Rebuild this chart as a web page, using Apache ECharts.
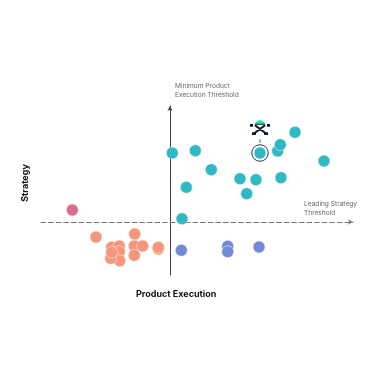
<!DOCTYPE html>
<html>
<head>
<meta charset="utf-8">
<style>
  html, body { margin: 0; padding: 0; background: #fff; }
  #chart-container { width: 378px; height: 378px; }
</style>
<script src="https://cdn.jsdelivr.net/npm/echarts@6/dist/echarts.min.js"></script>
</head>
<body>
<div id="chart-container"></div>
<script>
// values are offsets from the two thresholds
const tealX = [2.3, 25.3, 41.3, 16.3, 12, 70, 86, 76.7, 111, 90, 107.7, 110.3, 125, 154];
const tealY = [69, 71.3, 52.3, 34.7, 3.3, 43.3, 42.3, 28.3, 44.3, 69, 71, 77.3, 89.7, 61];
const orangeX = [-74, -35.3, -58.3, -50.7, -50.7, -35.7, -27.3, -35.7, -50.3, -59.3, -58.3, -11.7, -11.7];
const orangeY = [-15, -12, -25.3, -24, -29.7, -24, -24, -33.3, -38.7, -36.3, -30.3, -27, -25.3];
const blueX = [11.3, 57.7, 57.7, 89];
const blueY = [-28.3, -24.3, -29.7, -25];
const pinkX = [-97.7];
const pinkY = [12];
const highlight = [90, 69];
const stem = [[90, 79], [90, 83]];
const botBody = [90, 93];
const botHat = [90, 100];

const zip = (xs, ys) => xs.map((x, i) => [x, ys[i]]);

const dots = (name, color, data) => ({
  name,
  type: "scatter",
  data,
  symbolSize: 12,
  itemStyle: { color, opacity: 1, borderColor: "#fbe9e4", borderWidth: 0.6 },
  z: 3,
});

const botPath = "path://M0 1h3v3h-3z M17 1h3v3h-3z M5 0h10v2h-10z M4 3l2-1l10 8l-2 1z M6 11l-2-1l10-8l2 1z M2 10h4v3h-4z M14 10h4v3h-4z";

const chart = echarts.init(document.getElementById("chart-container"), null, { renderer: "canvas" });

const labelFont = { fontFamily: "Inter", fontSize: 6.6, lineHeight: 8.6, fill: "#666" };
const titleFont = { fontFamily: "Inter", fontSize: 9, fontWeight: 700, fill: "#111" };

chart.setOption({
  animation: false,
  grid: { left: 41, right: 25, top: 106, bottom: 103 },
  xAxis: {
    type: "value",
    min: -129,
    max: 183,
    splitLine: { show: false },
    axisTick: { show: false },
    axisLabel: { show: false },
    axisLine: {
      onZero: true,
      symbol: ["none", "arrow"],
      symbolSize: [4, 5],
      lineStyle: { color: "#777", width: 1.2, type: [4.6, 3] },
    },
  },
  yAxis: {
    type: "value",
    min: -53,
    max: 116,
    splitLine: { show: false },
    axisTick: { show: false },
    axisLabel: { show: false },
    axisLine: {
      onZero: true,
      symbol: ["none", "arrow"],
      symbolSize: [4, 5],
      lineStyle: { color: "#444", width: 1 },
    },
  },
  graphic: [
    { type: "text", left: 175, top: 82, style: { text: "Minimum Product\nExecution Threshold", ...labelFont } },
    { type: "text", left: 304, top: 200, style: { text: "Leading Strategy\nThreshold", ...labelFont } },
    { type: "text", left: 136, top: 290, style: { text: "Product Execution", ...titleFont } },
    { type: "text", x: 25, y: 183, rotation: Math.PI / 2, style: { text: "Strategy", align: "center", verticalAlign: "middle", ...titleFont } },
  ],
  series: [
    dots("Orange", "#f4967c", zip(orangeX, orangeY)),
    dots("Blue", "#7189d6", zip(blueX, blueY)),
    dots("Pink", "#d96d8a", zip(pinkX, pinkY)),
    dots("Teal", "#2db9c5", zip(tealX, tealY)),
    {
      type: "scatter",
      data: [highlight],
      symbolSize: 16.5,
      itemStyle: { color: "transparent", borderColor: "#2c3850", borderWidth: 1, opacity: 1 },
      z: 4,
    },
    {
      type: "line",
      data: stem,
      symbol: "none",
      lineStyle: { color: "#7d8794", width: 1.2 },
      z: 4,
    },
    {
      type: "scatter",
      data: [botBody],
      symbol: botPath,
      symbolSize: [20, 12],
      itemStyle: { color: "#10182b", opacity: 1 },
      z: 4,
    },
    {
      type: "scatter",
      data: [botHat],
      symbol: "path://M3 0h4l3 3v1h-10v-1z",
      symbolSize: [10, 3.5],
      itemStyle: { color: "#2fe3b0", opacity: 1 },
      z: 4,
    },
  ],
});
window.addEventListener("resize", chart.resize);
</script>
</body>
</html>
